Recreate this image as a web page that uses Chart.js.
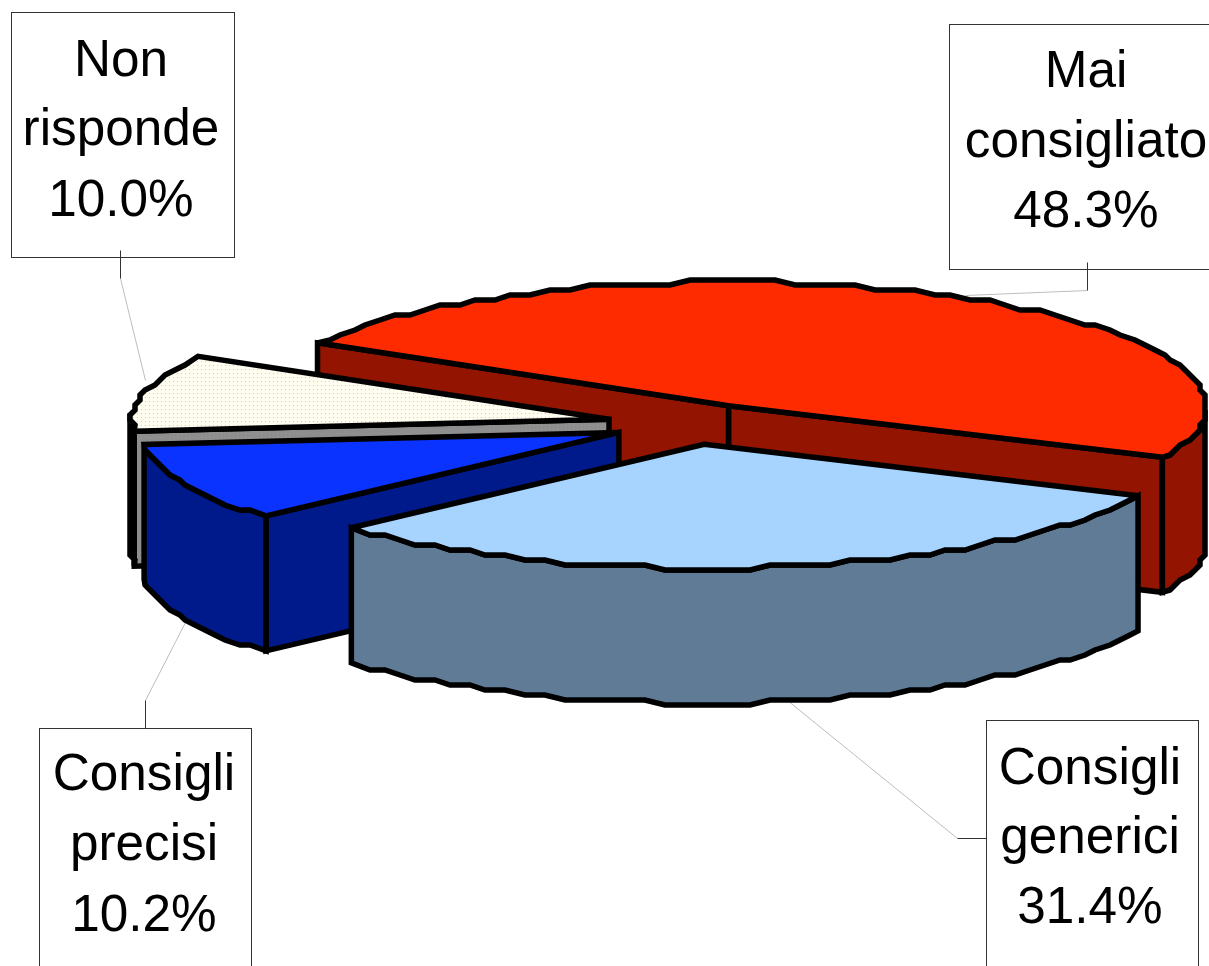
<!DOCTYPE html>
<html>
<head>
<meta charset="utf-8">
<title>Consigli</title>
<style>
    html, body { margin: 0; padding: 0; background: #fff; overflow: hidden; }
    canvas { display: block; }
</style>
<script src="https://cdn.jsdelivr.net/npm/chart.js@4/dist/chart.umd.min.js"></script>
</head>
<body>
<canvas id="myChart" width="1209" height="966"></canvas>
<script>
const categories = ['Mai consigliato', 'Consigli generici', 'Consigli precisi', 'Non risponde'];
const percentages = [48.3, 31.4, 10.2, 10.0];

// back to front
const drawOrder = [0, 3, 2, 1];

const explode = [79, 79, 80, 85];
const topColors = ['#ff2b00', '#a6d4ff', '#0a33ff', null];
const wallColors = ['#931400', '#607b96', '#001a8c', null];

const LINE = 5.5;
const CENTER_X = 692;
const CENTER_Y = 424;
const SQUASH = 0.26;
const DEPTH = 135;

// callout box + leader for every slice, same order as categories
const callouts = [
    { box: [949, 24, 290, 245], textX: 1086, baselines: [87, 157, 227],
      dark: [[1087, 262], [1087, 290]], light: [[1087, 290], [965, 295]] },
    { box: [986, 720, 212, 260], textX: 1090, baselines: [784, 853, 923],
      dark: [[986, 838], [957, 838]], light: [[957, 838], [787, 700]] },
    { box: [39, 728, 212, 260], textX: 144, baselines: [790, 860, 931],
      dark: [[145, 728], [145, 700]], light: [[145, 700], [185, 622]] },
    { box: [11, 12, 223, 245], textX: 121, baselines: [76, 145, 216],
      dark: [[120, 250], [120, 278]], light: [[120, 278], [145, 380]] }
];

function dotted(bg, dot) {
    const tile = document.createElement('canvas');
    tile.width = 4;
    tile.height = 4;
    const c = tile.getContext('2d');
    c.fillStyle = bg;
    c.fillRect(0, 0, 4, 4);
    c.fillStyle = dot;
    c.fillRect(1, 1, 1, 1);
    return c.createPattern(tile, 'repeat');
}

const ctxMain = document.getElementById('myChart').getContext('2d');
topColors[3] = dotted('#fffcf0', '#f3c98a');
wallColors[3] = dotted('#8e8e8e', '#a89a78');

// squashes the flat pie into the tilted view
function project(chart, x, y) {
    const area = chart.chartArea;
    const midX = (area.left + area.right) / 2;
    const midY = (area.top + area.bottom) / 2;
    return [x - midX + CENTER_X, (y - midY) * SQUASH + CENTER_Y];
}

// rim of a slice as a coarse polyline, the outline steps like an old vector export
function rimPoints(chart, cx, cy, r, from, to) {
    const pts = [];
    const step = 2.5 * Math.PI / 180;
    pts.push(project(chart, cx + Math.cos(from) * r, cy + Math.sin(from) * r));
    for (let a = from + step; a < to - step / 2; a += step) {
        const p = project(chart, cx + Math.cos(a) * r, cy + Math.sin(a) * r);
        pts.push([Math.round(p[0] / 5) * 5, Math.round(p[1] / 5) * 5]);
    }
    pts.push(project(chart, cx + Math.cos(to) * r, cy + Math.sin(to) * r));
    return pts;
}

function shape(ctx, pts, fill) {
    ctx.beginPath();
    pts.forEach((p, i) => i ? ctx.lineTo(p[0], p[1]) : ctx.moveTo(p[0], p[1]));
    ctx.closePath();
    ctx.fillStyle = fill;
    ctx.fill();
    ctx.lineWidth = LINE;
    ctx.lineJoin = 'miter';
    ctx.miterLimit = 3;
    ctx.strokeStyle = '#000';
    ctx.stroke();
}

function wall(ctx, topEdge, fill) {
    const lower = topEdge.slice().reverse().map(p => [p[0], p[1] + DEPTH]);
    shape(ctx, topEdge.concat(lower), fill);
}

function drawSlice(chart, ctx, arc, i) {
    const p = arc.getProps(['x', 'y', 'startAngle', 'endAngle', 'outerRadius']);
    const mid = (p.startAngle + p.endAngle) / 2;
    const offset = arc.options.offset;
    const cx = p.x + Math.cos(mid) * offset;
    const cy = p.y + Math.sin(mid) * offset;
    const apex = project(chart, cx, cy);
    const rim = rimPoints(chart, cx, cy, p.outerRadius, p.startAngle, p.endAngle);

    if (Math.cos(p.endAngle) > 0) {
        wall(ctx, [apex, rim[rim.length - 1]], wallColors[i]);
    }
    if (Math.cos(p.startAngle) < 0) {
        wall(ctx, [apex, rim[0]], wallColors[i]);
    }
    // only the part of the rim turned to the viewer gets a wall
    const front = [];
    const n = rim.length;
    for (let k = 0; k < n; k++) {
        const a = p.startAngle + (p.endAngle - p.startAngle) * k / (n - 1);
        if (Math.sin(a) >= 0) {
            front.push(rim[k]);
        }
    }
    if (front.length > 1) {
        wall(ctx, front, wallColors[i]);
    }
    shape(ctx, [apex].concat(rim), topColors[i]);
}

function segment(ctx, line, color) {
    ctx.lineWidth = 1;
    ctx.strokeStyle = color;
    ctx.beginPath();
    ctx.moveTo(line[0][0] + 0.5, line[0][1] + 0.5);
    ctx.lineTo(line[1][0] + 0.5, line[1][1] + 0.5);
    ctx.stroke();
}

function drawCallouts(ctx) {
    callouts.forEach((c, i) => {
        const b = c.box;
        ctx.fillStyle = '#fff';
        ctx.fillRect(b[0], b[1], b[2], b[3]);
        ctx.lineWidth = 1;
        ctx.strokeStyle = '#333';
        ctx.strokeRect(b[0] + 0.5, b[1] + 0.5, b[2], b[3]);
        segment(ctx, c.dark, '#333');

        const lines = categories[i].split(' ').concat(percentages[i].toFixed(1) + '%');
        ctx.fillStyle = '#000';
        ctx.font = '51.3px "Liberation Sans"';
        ctx.textAlign = 'center';
        ctx.textBaseline = 'alphabetic';
        lines.forEach((t, k) => ctx.fillText(t, c.textX, c.baselines[k]));
    });
}

const tiltedPie = {
    id: 'tiltedPie',
    beforeDatasetDraw(chart, args) {
        const ctx = chart.ctx;
        ctx.save();
        callouts.forEach((c) => segment(ctx, c.light, '#bdbdbd'));
        drawOrder.forEach((i) => drawSlice(chart, ctx, args.meta.data[i], i));
        drawCallouts(ctx);
        ctx.restore();
        return false;
    }
};

const myChart = new Chart(ctxMain, {
    type: 'pie',
    data: {
        labels: categories,
        datasets: [{
            data: percentages,
            backgroundColor: topColors,
            borderWidth: 0,
            offset: explode,
            radius: 477,
            clip: false
        }]
    },
    options: {
        responsive: false,
        animation: false,
        rotation: -59.5,
        plugins: {
            legend: { display: false },
            tooltip: { enabled: false }
        }
    },
    plugins: [tiltedPie]
});
</script>
</body>
</html>
